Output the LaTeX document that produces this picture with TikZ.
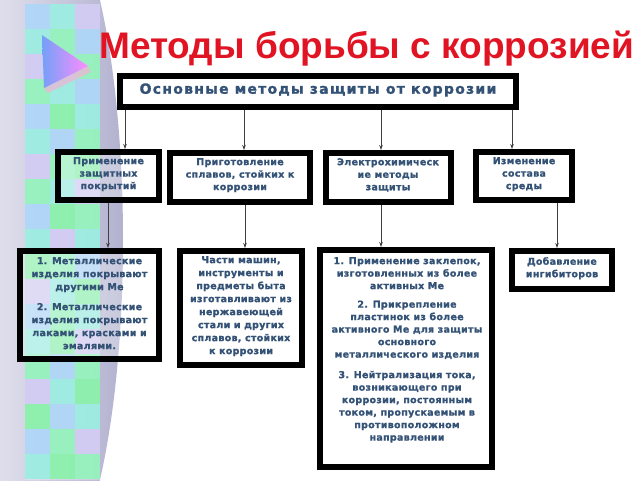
\documentclass[tikz,border=0pt]{standalone}
\usepackage{fontspec}
\setmainfont{Liberation Sans}
\newfontfamily\boxfont{DejaVu Sans}[LetterSpace=3, BoldFeatures={FakeBold=1.2}]
\newfontfamily\headfont{DejaVu Sans}[LetterSpace=9, BoldFeatures={FakeBold=1.3}]
\usetikzlibrary{arrows.meta,calc}
\definecolor{txt}{RGB}{52,82,118}
\definecolor{ttl}{RGB}{225,20,35}
\definecolor{mint}{RGB}{110,240,165}
\definecolor{aqua}{RGB}{120,232,215}
\definecolor{sky}{RGB}{145,200,245}
\definecolor{lav}{RGB}{195,185,240}
\definecolor{grn}{RGB}{95,238,140}
\definecolor{greyl}{RGB}{238,238,245}
\definecolor{greyd}{RGB}{178,178,208}
\begin{document}
\begin{tikzpicture}[x=1pt,y=-1pt,
  box/.style={draw=black, line width=6pt, inner sep=0pt, outer sep=3pt, fill=white},
  clearbox/.style={box, fill opacity=0.3, text opacity=1},
  lbl/.style={text=txt, font=\boxfont\bfseries\fontsize{9.5}{12.5}\selectfont, align=center, inner sep=0pt, anchor=north},
  lblb/.style={lbl, font=\boxfont\bfseries\fontsize{9.5}{13}\selectfont},
  arr/.style={draw=black!75, line width=0.8pt, -{Stealth[length=5pt,width=3.5pt]}}]
\useasboundingbox (0,0) rectangle (640,480);
\fill[white] (0,0) rectangle (640,480);
% decoration
\begin{scope}
\clip (0,0) rectangle (640,480);
\shade[left color=greyl, right color=greyd] (40,240) ellipse [x radius=83, y radius=347];
\foreach \ca/\cb/\cc [count=\i from 0] in {sky/aqua/lav,aqua/mint/sky,lav/sky/mint,mint/aqua/sky,sky/grn/aqua,aqua/sky/mint,lav/mint/grn,mint/aqua/lav,sky/grn/mint,aqua/lav/aqua,grn/mint/sky,lav/aqua/grn,sky/mint/aqua,aqua/grn/lav,mint/sky/mint,lav/aqua/grn,grn/sky/aqua,sky/mint/lav,aqua/grn/mint}{
  \fill[\ca, fill opacity=0.9] (25,4+25*\i) rectangle +(25,25);
  \fill[\cb, fill opacity=0.9] (50,4+25*\i) rectangle +(25,25);
  \fill[\cc, fill opacity=0.9] (75,4+25*\i) rectangle +(25,25);
}
\fill[white, fill opacity=0.25] (25,4) rectangle (100,480);
\fill[black!30!magenta!30, opacity=0.8] (44,88) -- (88,66) -- (91,72) -- (48,93) -- cycle;
\shade[left color=sky!80!blue, right color=magenta!45] (42,35) -- (44,88) -- (88,66) -- cycle;
\end{scope}
% title
\node[anchor=base west, inner sep=0pt, text=ttl, font=\bfseries\fontsize{37}{40}\selectfont] (title) at (99,58) {Методы борьбы с коррозией};
% top box
\node[box, minimum width=396pt, minimum height=31pt] (top) at (318,91.5) {};
\node[text=txt, inner sep=0pt, font=\headfont\bfseries\fontsize{14}{16}\selectfont] (toptext) at (318,90) {Основные методы защиты от коррозии};
% level 2
\node[clearbox, minimum width=101pt, minimum height=48pt] (a1) at (108.5,176) {};
\node[box, minimum width=140pt, minimum height=49pt] (a2) at (240,177.5) {};
\node[box, minimum width=125pt, minimum height=49pt] (a3) at (388.5,177.5) {};
\node[box, minimum width=96pt, minimum height=48pt] (a4) at (524,176) {};
\node[lbl] (ta1) at (108.5,157) {Применение\\защитных\\покрытий};
\node[lbl] (ta2) at (240,158) {Приготовление\\сплавов, стойких к\\коррозии};
\node[lbl] (ta3) at (388,158) {Электрохимическ\\ие методы\\защиты};
\node[lbl] (ta4) at (524,157) {Изменение\\состава\\среды};
% level 3
\node[clearbox, minimum width=139pt, minimum height=108pt] (b1) at (89.5,305) {};
\node[box, minimum width=122pt, minimum height=114pt] (b2) at (241,308) {};
\node[box, minimum width=172pt, minimum height=217pt] (b3) at (406,358.5) {};
\node[box, minimum width=100pt, minimum height=38pt] (b4) at (562,270) {};
\node[lblb] (tb1) at (89.5,257) {1. Металлические\\изделия покрывают\\другими Ме\\[7pt]2. Металлические\\изделия покрывают\\лаками, красками и\\эмалями.};
\node[lblb] (tb2) at (241,256) {Части машин,\\инструменты и\\предметы быта\\изготавливают из\\нержавеющей\\стали и других\\сплавов, стойких\\к коррозии};
\node[lbl] (tb3) at (407,257) {1. Применение заклепок,\\изготовленных из более\\активных Ме\\[6pt]2. Прикрепление\\пластинок из более\\активного Ме для защиты\\основного\\металлического изделия\\[8pt]3. Нейтрализация тока,\\возникающего при\\коррозии, постоянным\\током, пропускаемым в\\противоположном\\направлении};
\node[lbl] (tb4) at (562,257) {Добавление\\ингибиторов};
% connectors
\coordinate (p1) at (125,0);
\coordinate (p2) at (244,0);
\coordinate (p3) at (381,0);
\coordinate (p4) at (512,0);
\coordinate (q1) at (108,0);
\coordinate (q2) at (245,0);
\coordinate (q3) at (381,0);
\coordinate (q4) at (557,0);
\draw[arr] (top.south -| p1) -- (a1.north -| p1);
\draw[arr] (top.south -| p2) -- (a2.north -| p2);
\draw[arr] (top.south -| p3) -- (a3.north -| p3);
\draw[arr] (top.south -| p4) -- (a4.north -| p4);
\draw[arr] (a1.south -| q1) -- (b1.north -| q1);
\draw[arr] (a2.south -| q2) -- (b2.north -| q2);
\draw[arr] (a3.south -| q3) -- (b3.north -| q3);
\draw[arr] (a4.south -| q4) -- (b4.north -| q4);
\end{tikzpicture}
\end{document}
